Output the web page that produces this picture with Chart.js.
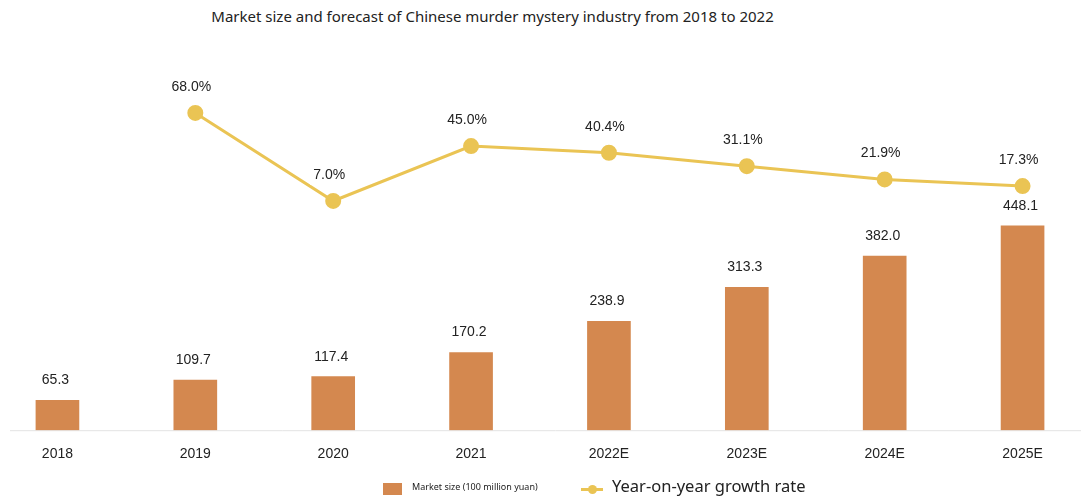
<!DOCTYPE html>
<html>
<head>
<meta charset="utf-8">
<script src="https://cdn.jsdelivr.net/npm/chart.js@4"></script>
<style>
  body{margin:0;background:#fff;width:1081px;height:497px;overflow:hidden;position:relative;font-family:"Noto Sans",sans-serif;}
  #title{position:absolute;top:6px;left:0;width:985px;text-align:center;font-size:15px;color:#222;}
  #chart{position:absolute;left:-21px;top:0;}
  .leg{position:absolute;color:#222;white-space:nowrap;}
</style>
</head>
<body>
<div id="title">Market size and forecast of Chinese murder mystery industry from 2018 to 2022</div>
<canvas id="chart" width="1122" height="479"></canvas>
<div class="leg" style="left:383px;top:483px;width:19px;height:12px;background:#D4884F;"></div>
<div class="leg" style="left:412px;top:480px;font-size:9px;">Market size (100 million yuan)</div>
<div class="leg" style="left:581px;top:488px;width:22px;height:3px;background:#EAC454;"></div>
<div class="leg" style="left:588px;top:485px;width:9px;height:9px;border-radius:50%;background:#EAC454;"></div>
<div class="leg" style="left:612px;top:474px;font-size:16.5px;">Year-on-year growth rate</div>
<script>
const years = ["2018","2019","2020","2021","2022E","2023E","2024E","2025E"];
const marketSize = [65.3, 109.7, 117.4, 170.2, 238.9, 313.3, 382.0, 448.1];
const growthRate = [null, 68.0, 7.0, 45.0, 40.4, 31.1, 21.9, 17.3];

const barColor = "#D4884F";
const lineColor = "#EAC454";

// value labels above bars and line points
const valueLabels = {
  id: "valueLabels",
  afterDatasetsDraw(chart){
    const ctx = chart.ctx;
    ctx.save();
    ctx.font = "14px 'Liberation Sans', Arial, sans-serif";
    ctx.textAlign = "center";
    ctx.textBaseline = "middle";
    chart.getDatasetMeta(0).data.forEach((bar, i) => {
      ctx.fillStyle = "#222";
      ctx.fillText(marketSize[i].toFixed(1), bar.x - 2, bar.y - 20);
    });
    chart.getDatasetMeta(1).data.forEach((pt, i) => {
      if(growthRate[i] == null) return;
      const txt = growthRate[i].toFixed(1) + "%";
      const w = ctx.measureText(txt).width;
      ctx.fillStyle = "#fff";
      ctx.fillRect(pt.x - 4 - w/2 - 3, pt.y - 26 - 10, w + 6, 20);
      ctx.fillStyle = "#222";
      ctx.fillText(txt, pt.x - 4, pt.y - 26);
    });
    ctx.restore();
  }
};

// thin baseline under the bars
const baseline = {
  id: "baseline",
  beforeDatasetsDraw(chart){
    const ctx = chart.ctx;
    const y = chart.scales.y.getPixelForValue(0);
    ctx.save();
    ctx.strokeStyle = "#e3e3e3";
    ctx.lineWidth = 1;
    ctx.beginPath();
    ctx.moveTo(31, y + 0.5);
    ctx.lineTo(chart.width, y + 0.5);
    ctx.stroke();
    ctx.restore();
  }
};

new Chart(document.getElementById("chart").getContext("2d"), {
  data: {
    labels: years,
    datasets: [{
      type: "bar",
      label: "Market size (100 million yuan)",
      data: marketSize,
      yAxisID: "y",
      backgroundColor: barColor,
      barThickness: 43,
      order: 1
    },{
      type: "line",
      label: "Year-on-year growth rate",
      data: growthRate,
      yAxisID: "y2",
      borderColor: lineColor,
      backgroundColor: lineColor,
      borderWidth: 3,
      pointRadius: 6.5,
      pointHoverRadius: 6.5,
      order: 0
    }]
  },
  options: {
    responsive: false,
    animation: false,
    layout: { padding: { top: 40, left: 0, right: 0, bottom: 0 } },
    plugins: { legend: { display: false }, tooltip: { enabled: false } },
    scales: {
      x: {
        grid: { display: false, drawTicks: false },
        border: { display: false },
        ticks: { color: "#222", padding: 16, font: { family: "'Liberation Sans', Arial, sans-serif", size: 14 } }
      },
      y: { display: false, min: 0, max: 856 },
      y2: { display: false, min: -151.8, max: 118.5 }
    }
  },
  plugins: [baseline, valueLabels]
});
</script>
</body>
</html>
